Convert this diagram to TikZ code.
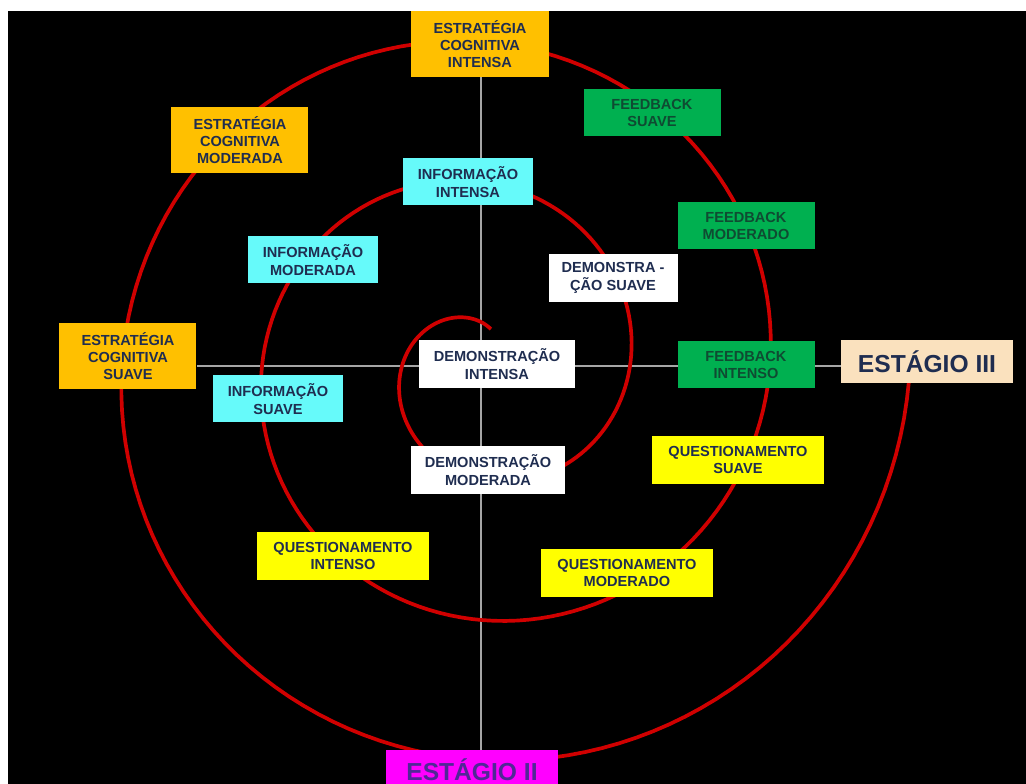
\documentclass[tikz,border=0pt]{standalone}
\usepackage{fontspec}
\setmainfont{Liberation Sans}
\usetikzlibrary{backgrounds}

\definecolor{boxorange}{RGB}{255,192,0}
\definecolor{boxcyan}{RGB}{102,250,250}
\definecolor{boxgreen}{RGB}{0,176,80}
\definecolor{boxyellow}{RGB}{255,255,0}
\definecolor{boxpeach}{RGB}{250,225,190}
\definecolor{boxmagenta}{RGB}{255,0,255}
\definecolor{textnavy}{RGB}{31,45,80}
\definecolor{textgreen}{RGB}{15,75,50}
\definecolor{textpurple}{RGB}{80,40,150}
\definecolor{spiralred}{RGB}{208,0,0}
\definecolor{axisgray}{RGB}{166,166,166}

\begin{document}
\begin{tikzpicture}[
        box/.style={inner sep=0pt, align=center, text=textnavy,
            font=\bfseries\fontsize{8.3}{9.8}\selectfont},
        estbox/.style={box, fill=boxorange, minimum width=2.74cm, minimum height=1.32cm},
        infbox/.style={box, fill=boxcyan, minimum width=2.6cm, minimum height=0.94cm},
        dembox/.style={box, fill=white, minimum width=2.58cm, minimum height=0.95cm},
        fbbox/.style={box, fill=boxgreen, text=textgreen, minimum width=2.74cm, minimum height=0.94cm},
        qbox/.style={box, fill=boxyellow, minimum width=3.44cm, minimum height=0.96cm},
        stagebox/.style={inner sep=0pt, minimum width=3.44cm, minimum height=0.86cm,
            font=\bfseries\fontsize{14}{16}\selectfont},
        axis/.style={line width=1.7pt, axisgray},
        spiral/.style={line width=2.1pt, spiralred}
    ]
            \useasboundingbox (-9.62,-8.36) rectangle (10.9,7.32);
            \coordinate (O) at (0,0);

            % ==== ESTRATEGIA ====
            \node[estbox] (estInt) at (-0.02,6.44) {ESTRATÉGIA\\COGNITIVA\\INTENSA};
            \node[estbox] (estMod) at (-4.82,4.52) {ESTRATÉGIA\\COGNITIVA\\MODERADA};
            \node[estbox] (estSua) at (-7.06,0.20) {ESTRATÉGIA\\COGNITIVA\\SUAVE};
            % ==== INFORMACAO ====
            \node[infbox] (infInt) at (-0.26,3.68) {INFORMAÇÃO\\INTENSA};
            \node[infbox] (infMod) at (-3.36,2.12) {INFORMAÇÃO\\MODERADA};
            \node[infbox] (infSua) at (-4.06,-0.66) {INFORMAÇÃO\\SUAVE};
            % ==== DEMONSTRACAO ====
            \node[dembox, minimum width=3.1cm] (demInt) at (0.32,0.04) {DEMONSTRAÇÃO\\INTENSA};
            \node[dembox, minimum width=3.06cm] (demMod) at (0.14,-2.08) {DEMONSTRAÇÃO\\MODERADA};
            \node[dembox] (demSua) at (2.64,1.76) {DEMONSTRA -\\ÇÃO SUAVE};
            % ==== FEEDBACK ====
            \node[fbbox] (fbSua) at (3.42,5.06) {FEEDBACK\\SUAVE};
            \node[fbbox] (fbMod) at (5.30,2.80) {FEEDBACK\\MODERADO};
            \node[fbbox] (fbInt) at (5.30,0.02) {FEEDBACK\\INTENSO};
            % ==== QUESTIONAMENTO ====
            \node[qbox] (qSua) at (5.14,-1.88) {QUESTIONAMENTO\\SUAVE};
            \node[qbox] (qMod) at (2.92,-4.14) {QUESTIONAMENTO\\MODERADO};
            \node[qbox] (qInt) at (-2.76,-3.80) {QUESTIONAMENTO\\INTENSO};
            % ==== ESTAGIOS ====
            \node[stagebox, fill=boxpeach, text=textnavy] (stage3) at (8.92,0.08) {ESTÁGIO III};
            \node[stagebox, fill=boxmagenta, text=textpurple, anchor=north,
                minimum height=0.76cm] (stage2) at (-0.18,-7.68) {ESTÁGIO II};

            \begin{scope}[on background layer]
                % ==== BACKGROUND ====
                \fill[white] (-9.62,-8.36) rectangle (10.9,7.32);
                \fill[black] (-9.46,-8.36) rectangle (10.9,7.10);
                % ==== AXES ====
                \draw[axis] (estSua.east |- O) -- (stage3.west |- O);
                \draw[axis] (estInt.south -| O) -- (stage2.north -| O);
                % ==== SPIRAL ====
                \draw[spiral, samples=400, domain=-285:718]
                    plot({(2.98+2.8*\x/360)*cos(\x)},{(2.98+2.8*\x/360)*sin(\x)});
            \end{scope}
\end{tikzpicture}
\end{document}
